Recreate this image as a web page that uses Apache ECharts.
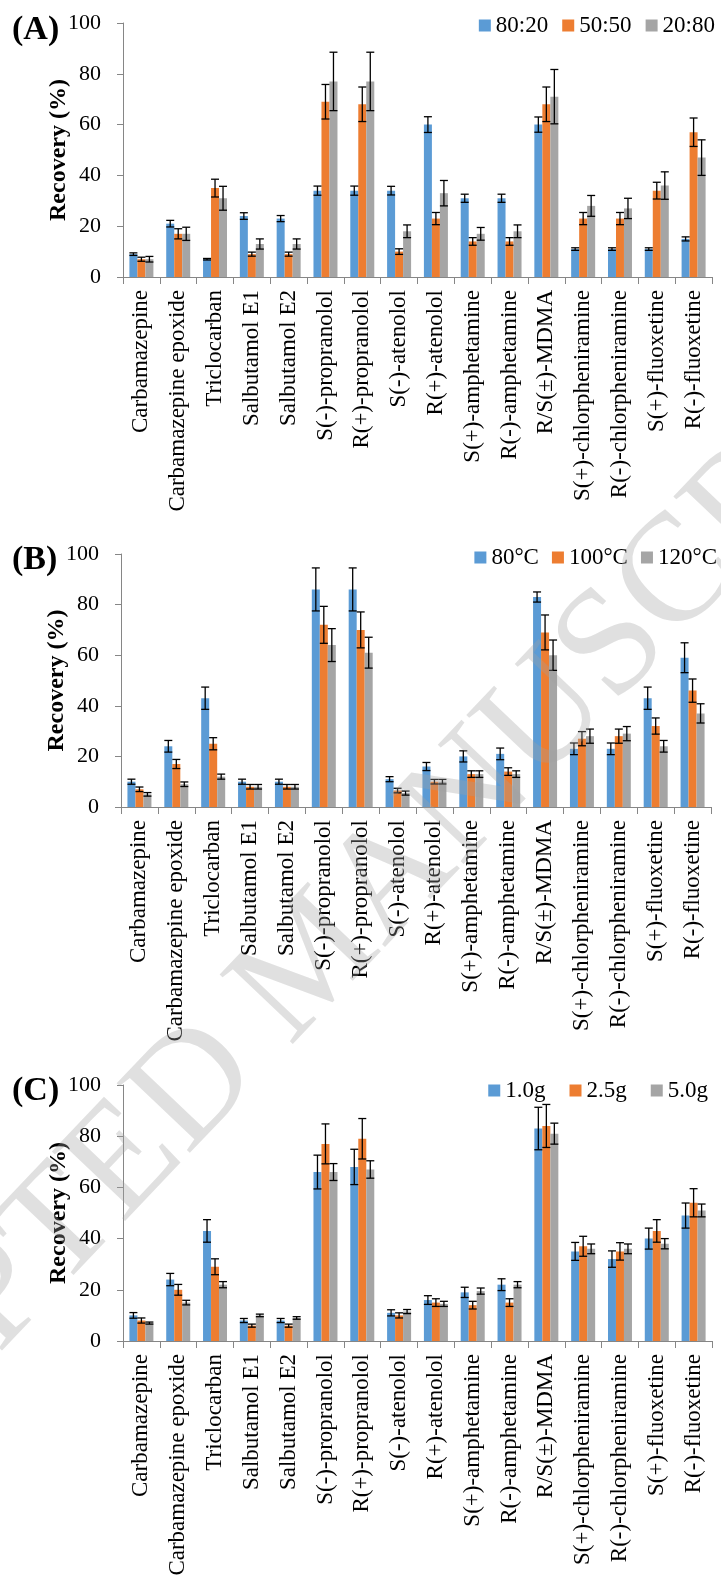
<!DOCTYPE html>
<html>
<head>
<meta charset="utf-8">
<script src="https://cdn.jsdelivr.net/npm/echarts@6/dist/echarts.min.js"></script>
<style>
  html, body { margin: 0; padding: 0; background: #fff; }
  #chart { width: 721px; height: 1586px; }
</style>
</head>
<body>
<div id="chart"></div>
<script>
// Compounds on the x axis (same for all three panels)
const categories = [
  'Carbamazepine', 'Carbamazepine epoxide', 'Triclocarban', 'Salbutamol E1', 'Salbutamol E2',
  'S(-)-propranolol', 'R(+)-propranolol', 'S(-)-atenolol', 'R(+)-atenolol',
  'S(+)-amphetamine', 'R(-)-amphetamine', 'R/S(\u00b1)-MDMA',
  'S(+)-chlorpheniramine', 'R(-)-chlorpheniramine', 'S(+)-fluoxetine', 'R(-)-fluoxetine'
];
const yTicks = [0, 20, 40, 60, 80, 100];

// (A) solvent ratio
const namesA = ['80:20', '50:50', '20:80'];
const recA8020 = [9, 21, 7, 24, 23, 34, 34, 34, 60, 31, 31, 60, 11, 11, 11, 15];
const errA8020 = [0.5, 1.3, 0.3, 1.3, 1.2, 1.8, 1.8, 1.7, 3.1, 1.6, 1.6, 3, 0.5, 0.5, 0.5, 0.8];
const recA5050 = [7, 17, 35, 9, 9, 69, 68, 10, 23, 14, 14, 68, 23, 23, 34, 57];
const errA5050 = [0.8, 2, 3.5, 0.8, 0.8, 6.8, 6.8, 1.1, 2.4, 1.5, 1.5, 6.8, 2.4, 2.4, 3.3, 5.6];
const recA2080 = [7, 17, 31, 13, 13, 77, 77, 18, 33, 17, 18, 71, 28, 27, 36, 47];
const errA2080 = [1.1, 2.6, 4.7, 2, 2, 11.5, 11.5, 2.5, 5, 2.5, 2.5, 10.7, 4.1, 4, 5.4, 7];

// (B) temperature
const namesB = ['80\u00b0C', '100\u00b0C', '120\u00b0C'];
const recB80 = [10, 24, 43, 10, 10, 86, 86, 11, 16, 20, 21, 83, 23, 23, 43, 59];
const errB80 = [1, 2.3, 4.4, 1, 1, 8.5, 8.5, 1, 1.6, 2.2, 2.3, 2, 2.3, 2.3, 4.4, 5.9];
const recB100 = [7, 17, 25, 8, 8, 72, 70, 6.5, 10, 13, 14, 69, 27, 28, 32, 46];
const errB100 = [0.9, 1.8, 2.4, 0.9, 0.9, 7.3, 7.1, 0.9, 0.9, 1.3, 1.5, 6.9, 2.8, 2.8, 3.2, 4.6];
const recB120 = [5, 9, 12, 8, 8, 64, 61, 5.5, 10, 13, 13, 60, 28, 29, 24, 37];
const errB120 = [0.7, 0.9, 1, 0.9, 0.9, 6.5, 6.1, 0.8, 0.9, 1.3, 1.3, 6, 2.8, 2.8, 2.3, 3.8];

// (C) sample mass
const namesC = ['1.0g', '2.5g', '5.0g'];
const recC10 = [10, 24, 43, 8, 8, 66, 68, 11, 16, 19, 22, 83, 35, 32, 40, 49];
const errC10 = [1.1, 2.4, 4.4, 0.8, 0.8, 6.6, 6.9, 1.2, 1.7, 2, 2.3, 8.3, 3.5, 3.2, 4.1, 4.9];
const recC25 = [8, 20, 29, 6, 6, 77, 79, 10, 15, 14, 15, 84, 37, 35, 43, 54];
const errC25 = [1, 2.1, 3.1, 0.6, 0.6, 7.8, 7.9, 1, 1.5, 1.5, 1.5, 8.4, 3.9, 3.4, 4.4, 5.5];
const recC50 = [7, 15, 22, 10, 9, 66, 67, 11.5, 14.5, 19.5, 22, 81, 36, 36, 38, 51];
const errC50 = [0.4, 0.9, 1.2, 0.5, 0.5, 3.3, 3.4, 0.8, 1, 1.2, 1.2, 4.1, 1.9, 1.9, 2, 2.5];

const colors = ['#5b9bd5', '#ed7d31', '#a5a5a5'];
const serif = 'Liberation Serif';
const axisGray = '#868686';
const BAR_W = 8;

const panels = [
  { tag: '(A)', names: namesA, rec: [recA8020, recA5050, recA2080], err: [errA8020, errA5050, errA2080],
    grid: { left: 123, top: 23, width: 589, height: 254 }, tagTop: 13,
    legend: { right: 6, top: 14, itemGap: 14 } },
  { tag: '(B)', names: namesB, rec: [recB80, recB100, recB120], err: [errB80, errB100, errB120],
    grid: { left: 121, top: 554, width: 590, height: 253 }, tagTop: 543,
    legend: { right: 4, top: 546, itemGap: 13 } },
  { tag: '(C)', names: namesC, rec: [recC10, recC25, recC50], err: [errC10, errC25, errC50],
    grid: { left: 123, top: 1085, width: 589, height: 256 }, tagTop: 1074,
    legend: { right: 13, top: 1079, itemGap: 24 } }
];

const grid = [], xAxis = [], yAxis = [], legend = [], series = [], graphic = [];

panels.forEach((p, g) => {
  grid.push(p.grid);
  xAxis.push({
    type: 'category', gridIndex: g, data: categories,
    axisLine: { lineStyle: { color: axisGray, width: 1 } },
    axisTick: { show: true, length: 7, lineStyle: { color: axisGray } },
    axisLabel: { rotate: 90, margin: 13, interval: 0, color: '#000', fontFamily: serif, fontSize: 23 }
  });
  yAxis.push({
    type: 'value', gridIndex: g, min: yTicks[0], max: yTicks[yTicks.length - 1], interval: 20,
    name: 'Recovery (%)', nameLocation: 'middle', nameGap: 52, nameRotate: 90, nameMoveOverlap: false,
    nameTextStyle: { color: '#000', fontFamily: serif, fontSize: 24, fontWeight: 'bold' },
    axisLine: { show: true, lineStyle: { color: axisGray, width: 1 } },
    axisTick: { show: true, length: 6, lineStyle: { color: axisGray } },
    axisLabel: { margin: 22, color: '#000', fontFamily: serif, fontSize: 22 },
    splitLine: { show: false }
  });
  legend.push(Object.assign({
    data: p.names, icon: 'rect', itemWidth: 12, itemHeight: 12, selectedMode: false,
    textStyle: { color: '#000', fontFamily: serif, fontSize: 23 }, padding: 0
  }, p.legend));
  graphic.push({
    type: 'text', left: 12, top: p.tagTop, silent: true,
    style: { text: p.tag, fill: '#000', fontFamily: serif, fontSize: 34, fontWeight: 'bold' }
  });

  p.names.forEach((name, i) => {
    series.push({
      name, type: 'bar', xAxisIndex: g, yAxisIndex: g,
      data: p.rec[i], barWidth: BAR_W, barGap: '0%',
      itemStyle: { color: colors[i] }, emphasis: { disabled: true }
    });
  });
  // error bars, one custom series per bar series
  p.names.forEach((name, i) => {
    const off = (i - 1) * BAR_W;
    series.push({
      type: 'custom', xAxisIndex: g, yAxisIndex: g, silent: true, z: 3,
      data: p.rec[i].map((v, k) => [k, v, p.err[i][k]]),
      encode: { x: 0, y: 1 },
      renderItem: (params, api) => {
        const c = api.value(0), v = api.value(1), e = api.value(2);
        const hi = api.coord([c, v + e]);
        const lo = api.coord([c, v - e]);
        const x = hi[0] + off;
        const st = { stroke: '#000', lineWidth: 1.3 };
        return {
          type: 'group',
          children: [
            { type: 'line', shape: { x1: x, y1: hi[1], x2: x, y2: lo[1] }, style: st },
            { type: 'line', shape: { x1: x - 4, y1: hi[1], x2: x + 4, y2: hi[1] }, style: st },
            { type: 'line', shape: { x1: x - 4, y1: lo[1], x2: x + 4, y2: lo[1] }, style: st }
          ]
        };
      }
    });
  });
});

// faint "ACCEPTED MANUSCRIPT" watermark across the page
graphic.push({
  type: 'text', x: 315, y: 962, rotation: 46.5 * Math.PI / 180, silent: true, z: 100,
  style: {
    text: 'ACCEPTED MANUSCRIPT', fill: 'rgba(160,160,160,0.33)',
    fontFamily: serif, fontSize: 154, align: 'center', verticalAlign: 'middle'
  }
});

const myChart = echarts.init(document.getElementById('chart'), null, { renderer: 'canvas' });
myChart.setOption({
  backgroundColor: '#fff',
  animation: false,
  grid, xAxis, yAxis, legend, series, graphic
});
</script>
</body>
</html>
